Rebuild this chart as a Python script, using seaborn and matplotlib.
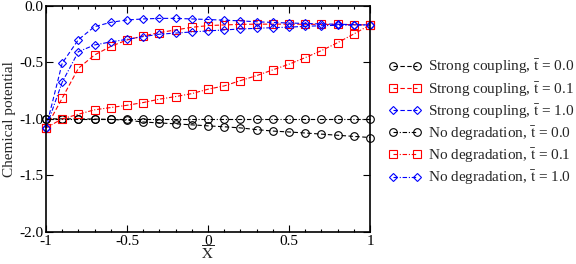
import numpy as np
import pandas as pd
import matplotlib
matplotlib.use("Agg")
import matplotlib.pyplot as plt
import seaborn as sns
from matplotlib.ticker import MultipleLocator, FixedLocator
from matplotlib.lines import Line2D

sns.set_theme(style="white")
plt.rcParams['font.family'] = ['Liberation Serif', 'DejaVu Serif']
plt.rcParams['mathtext.fontset'] = 'stix'
plt.rcParams['axes.unicode_minus'] = False

x_vals = [-1.0, -0.9, -0.8, -0.7, -0.6, -0.5, -0.4, -0.3, -0.2, -0.1, 0.0,
          0.1, 0.2, 0.3, 0.4, 0.5, 0.6, 0.7, 0.8, 0.9, 1.0]

sc_t00 = [-1.000, -1.000, -1.000, -1.002, -1.005, -1.012, -1.028, -1.036, -1.044, -1.053, -1.062,
          -1.070, -1.080, -1.095, -1.108, -1.116, -1.125, -1.135, -1.145, -1.155, -1.165]
sc_t01 = [-1.080, -0.817, -0.553, -0.435, -0.360, -0.303, -0.267, -0.238, -0.214, -0.191, -0.176,
          -0.170, -0.165, -0.163, -0.163, -0.163, -0.164, -0.165, -0.166, -0.168, -0.170]
sc_t10 = [-1.080, -0.508, -0.300, -0.185, -0.147, -0.126, -0.117, -0.112, -0.112, -0.117, -0.122,
          -0.128, -0.134, -0.142, -0.148, -0.153, -0.157, -0.161, -0.164, -0.167, -0.170]
nd_t00 = [-1.000, -1.000, -1.000, -1.000, -1.000, -1.000, -1.000, -1.000, -1.000, -1.000, -1.000,
          -1.000, -1.000, -1.000, -1.000, -1.000, -1.000, -1.000, -1.000, -1.000, -1.000]
nd_t01 = [-1.080, -1.000, -0.959, -0.920, -0.900, -0.880, -0.856, -0.826, -0.803, -0.777, -0.738,
          -0.709, -0.662, -0.618, -0.567, -0.517, -0.459, -0.397, -0.327, -0.250, -0.170]
nd_t10 = [-1.080, -0.676, -0.406, -0.347, -0.320, -0.297, -0.273, -0.252, -0.242, -0.232, -0.223,
          -0.214, -0.206, -0.200, -0.194, -0.190, -0.182, -0.177, -0.173, -0.171, -0.170]

labels = [r"Strong coupling, $\bar{\mathrm{t}}$ = 0.0",
          r"Strong coupling, $\bar{\mathrm{t}}$ = 0.1",
          r"Strong coupling, $\bar{\mathrm{t}}$ = 1.0",
          r"No degradation, $\bar{\mathrm{t}}$ = 0.0",
          r"No degradation, $\bar{\mathrm{t}}$ = 0.1",
          r"No degradation, $\bar{\mathrm{t}}$ = 1.0"]
series = [sc_t00, sc_t01, sc_t10, nd_t00, nd_t01, nd_t10]
colors = ["#000000", "#ff0000", "#0000ff", "#000000", "#ff0000", "#0000ff"]
markers = ["o", "s", "D", "o", "s", "D"]
msizes = [5.5, 5.5, 4.3, 5.5, 5.5, 4.3]
styles = [(0, (4, 2.2)), (0, (4, 2.2)), (0, (4, 2.2)),
          (0, (4, 1.6, 1, 1.6)), (0, (4, 1.6, 1, 1.6)), (0, (4, 1.6, 1, 1.6))]

fig = plt.figure(figsize=(5.76, 2.64), dpi=100)
ax = fig.add_axes([46/576, 1-232/264, (370-46)/576, (232-5.7)/264])

handles = []
for ys, lab, c, m, ms, ls in zip(series, labels, colors, markers, msizes, styles):
    df = pd.DataFrame({"x": x_vals, "y": ys})
    sns.lineplot(data=df, x="x", y="y", ax=ax, color=c, linestyle=ls, linewidth=0.8,
                 marker=m, markersize=ms, markerfacecolor="none", markeredgecolor=c,
                 markeredgewidth=0.8, clip_on=False, legend=False)
    handles.append(Line2D([], [], color=c, linestyle=ls, linewidth=0.8, marker=m,
                          markersize=ms, markerfacecolor="none", markeredgecolor=c,
                          markeredgewidth=0.8, label=lab))

ax.set_xlim(-1, 1)
ax.set_ylim(-2.0, 0.0)
ax.xaxis.set_major_locator(FixedLocator([-1, -0.5, 0, 0.5, 1]))
ax.xaxis.set_minor_locator(MultipleLocator(0.1))
ax.set_xticklabels(["-1", "-0.5", "0", "0.5", "1"])
ax.yaxis.set_major_locator(FixedLocator([-2.0, -1.5, -1.0, -0.5, 0.0]))
ax.set_yticklabels(["-2.0", "-1.5", "-1.0", "-0.5", "0.0"])
ax.tick_params(which="both", direction="in", top=True, right=True, bottom=True, left=True,
               labelsize=11, colors="black", width=0.8, pad=2)
ax.tick_params(which="major", length=5)
ax.tick_params(which="minor", length=2.5)
for s in ax.spines.values():
    s.set_color("black")
    s.set_linewidth(1.2)

ax.set_xlabel(r"$\overline{\mathrm{X}}$", fontsize=11, labelpad=-2.5)
ax.set_ylabel("Chemical potential", fontsize=11, labelpad=2)

ax.legend(handles=handles, loc="center left", bbox_to_anchor=(388/576, 1-122.3/264),
          bbox_transform=fig.transFigure, frameon=False, fontsize=11,
          numpoints=2, handlelength=2.2, handletextpad=0.4, labelspacing=0.22,
          borderpad=0, borderaxespad=0)

fig.savefig("out.png", dpi=100)
